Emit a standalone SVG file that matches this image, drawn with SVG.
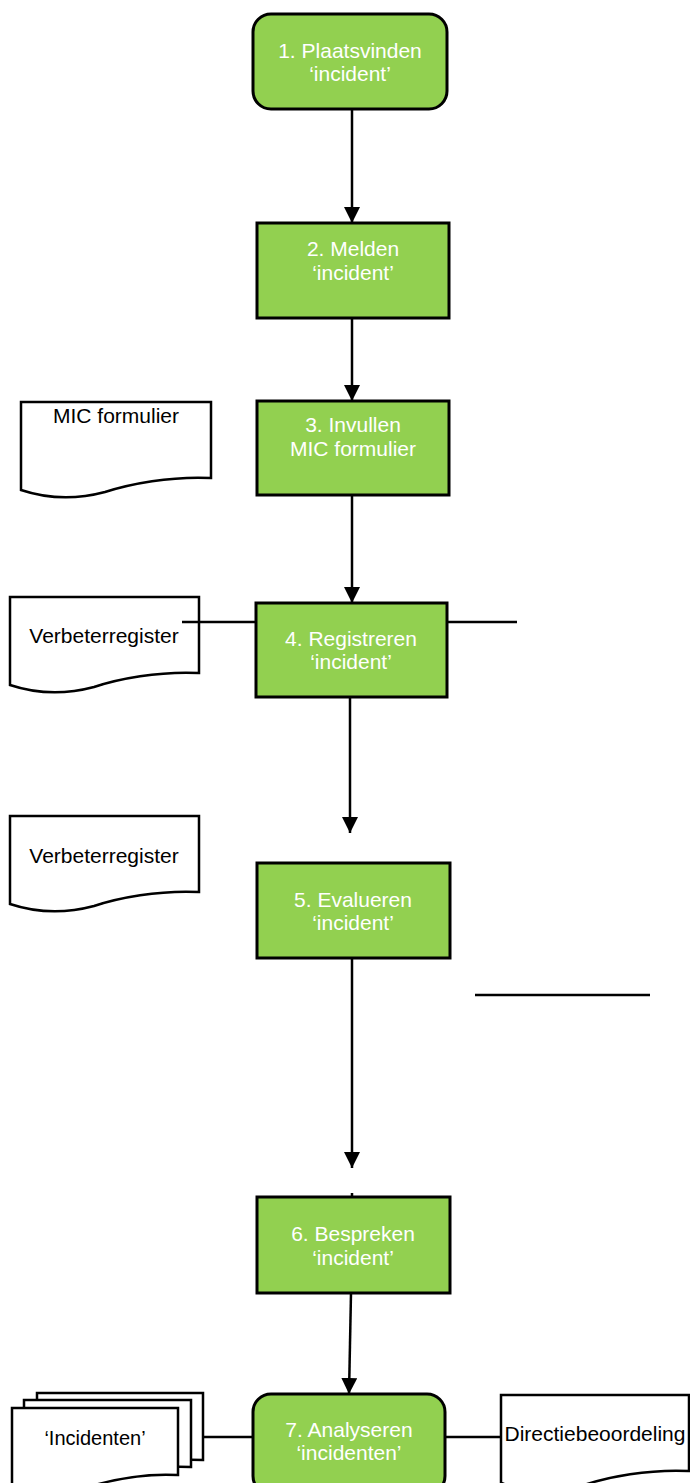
<svg xmlns="http://www.w3.org/2000/svg" width="690" height="1483" viewBox="0 0 690 1483">
<style>
.node{fill:#92D050;stroke:#000;stroke-width:3}
.doc{fill:#fff;stroke:#000;stroke-width:2.5;stroke-linejoin:miter}
.wt{fill:#fff;font-family:"Liberation Sans",Arial,sans-serif;font-size:21px;text-anchor:middle}
.bt{fill:#000;font-family:"Liberation Sans",Arial,sans-serif;font-size:21px;text-anchor:middle}
.con{stroke:#000;stroke-width:2.5;fill:none}
</style>
<defs>
<marker id="arr" markerUnits="userSpaceOnUse" markerWidth="18" markerHeight="18" refX="16" refY="8" orient="auto">
<path d="M0,0 L16,8 L0,16 Z" fill="#000"/>
</marker>
</defs>
<rect width="690" height="1483" fill="#fff"/>

<g id="doc-mic">
<path class="doc" d="M21,402 H211 V478 C170,476 130,484 105,492 C75,500 45,498 21,490 Z"/>
<text class="bt" x="116" y="423">MIC formulier</text>
</g>

<g id="doc-verbeter1">
<path class="doc" d="M10,597 H199 V673 C158,671 118,679 94,687 C64,695 34,693 10,685 Z"/>
<text class="bt" x="104" y="643">Verbeterregister</text>
</g>

<g id="doc-verbeter2">
<path class="doc" d="M10,816 H199 V892 C158,890 118,898 94,906 C64,914 34,912 10,904 Z"/>
<text class="bt" x="104" y="863">Verbeterregister</text>
</g>

<g id="doc-incidenten">
<path class="doc" d="M37,1393 H203 V1460 C167,1458 132,1466 110,1473 C84,1481 58,1479 37,1472 Z"/>
<path class="doc" d="M24,1400 H191 V1467 C155,1465 120,1473 98,1480 C72,1488 46,1486 24,1479 Z"/>
<path class="doc" d="M12,1408 H178 V1475 C142,1473 107,1481 85,1488 C59,1496 33,1494 12,1487 Z"/>
<text class="bt" x="95" y="1445" style="font-size:20px">‘Incidenten’</text>
</g>

<g id="doc-directie">
<path class="doc" d="M501,1395 H689 V1471 C648,1469 608,1477 584,1485 C554,1493 524,1491 501,1483 Z"/>
<text class="bt" x="595" y="1441">Directiebeoordeling</text>
</g>

<g id="connectors">
<line class="con" x1="352" y1="109" x2="352" y2="223" marker-end="url(#arr)"/>
<line class="con" x1="352" y1="318" x2="352" y2="401" marker-end="url(#arr)"/>
<line class="con" x1="352" y1="495" x2="352" y2="603" marker-end="url(#arr)"/>
<line class="con" x1="350" y1="697" x2="350" y2="833" marker-end="url(#arr)"/>
<line class="con" x1="352" y1="958" x2="352" y2="1168" marker-end="url(#arr)"/>
<line class="con" x1="352" y1="1193" x2="352" y2="1197"/>
<line class="con" x1="351" y1="1293" x2="349" y2="1394" marker-end="url(#arr)"/>
<line class="con" x1="182" y1="622" x2="256" y2="622"/>
<line class="con" x1="447" y1="622" x2="517" y2="622"/>
<line class="con" x1="475" y1="995" x2="650" y2="995"/>
<line class="con" x1="203" y1="1437" x2="253" y2="1437"/>
<line class="con" x1="445" y1="1437" x2="501" y2="1437"/>
</g>

<g id="node1">
<rect class="node" x="253" y="14" width="194" height="95" rx="18" ry="18"/>
<text class="wt" x="350" y="58">1. Plaatsvinden</text>
<text class="wt" x="350" y="81">‘incident’</text>
</g>

<g id="node2">
<rect class="node" x="257" y="223" width="192" height="95"/>
<text class="wt" x="353" y="256">2. Melden</text>
<text class="wt" x="353" y="280">‘incident’</text>
</g>

<g id="node3">
<rect class="node" x="257" y="401" width="192" height="94"/>
<text class="wt" x="353" y="432">3. Invullen</text>
<text class="wt" x="353" y="456">MIC formulier</text>
</g>

<g id="node4">
<rect class="node" x="256" y="603" width="191" height="94"/>
<text class="wt" x="351" y="646">4. Registreren</text>
<text class="wt" x="351" y="669">‘incident’</text>
</g>

<g id="node5">
<rect class="node" x="257" y="863" width="193" height="95"/>
<text class="wt" x="353" y="907">5. Evalueren</text>
<text class="wt" x="353" y="930">‘incident’</text>
</g>

<g id="node6">
<rect class="node" x="257" y="1197" width="193" height="96"/>
<text class="wt" x="353" y="1241">6. Bespreken</text>
<text class="wt" x="353" y="1265">‘incident’</text>
</g>

<g id="node7">
<rect class="node" x="253" y="1394" width="192" height="100" rx="18" ry="18"/>
<text class="wt" x="349" y="1437">7. Analyseren</text>
<text class="wt" x="349" y="1460">‘incidenten’</text>
</g>
</svg>
